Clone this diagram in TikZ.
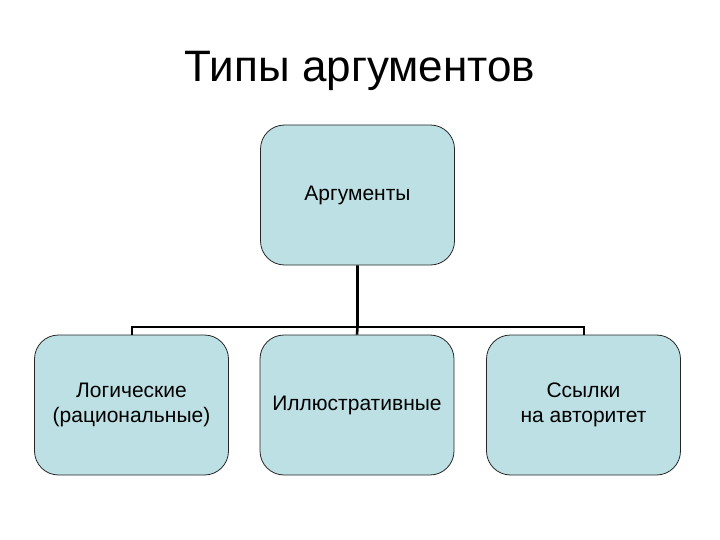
\documentclass[tikz,border=0pt]{standalone}
\usepackage{fontspec}
\setmainfont{Liberation Sans}
\definecolor{boxfill}{RGB}{189,224,228}
\begin{document}
\begin{tikzpicture}[x=1pt,y=-1pt,
  boxnode/.style={draw=black!85,line width=0.8pt,fill=boxfill,rounded corners=24pt,
    minimum width=194pt,minimum height=140pt,align=center,font=\fontsize{21}{25}\selectfont,inner sep=0pt},
  conn/.style={line width=2pt,black}]
\useasboundingbox (0,0) rectangle (720,540);
\node[font=\fontsize{44}{52}\selectfont] (title) at (360,71) {Типы аргументов};
\node[boxnode] (top) at (357.5,195) {Аргументы};
\node[boxnode] (left) at (131.5,405) {Логические\\(рациональные)};
\node[boxnode] (mid) at (357,405) {Иллюстративные};
\node[boxnode] (right) at (583.5,405) {Ссылки\\на авторитет};
\coordinate (bar) at (357.5,327);
\draw[conn,line width=2.6pt] (top.south) -- (bar) -- (mid.north);
\draw[conn] (left.north) |- (bar);
\draw[conn] (right.north) |- (bar);
\end{tikzpicture}
\end{document}
